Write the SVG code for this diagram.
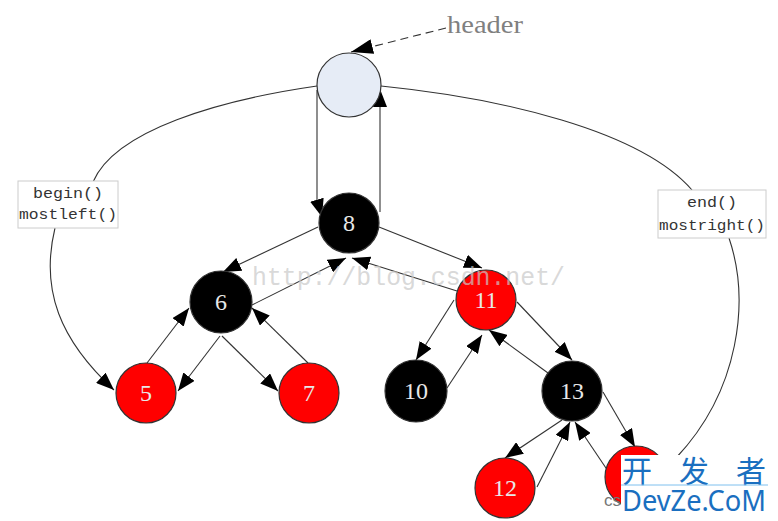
<svg xmlns="http://www.w3.org/2000/svg" width="778" height="521" viewBox="0 0 778 521">
<style>
.edge{fill:none;stroke:#333;stroke-width:1.1}
.node{stroke:#333;stroke-width:1.2}
.red{fill:#ff0000}
.blk{fill:#000}
.lbl{font-family:"Liberation Serif",serif;font-size:24px;fill:#e8e8e8;text-anchor:middle}
.box{fill:#fff;stroke:#ccc;stroke-width:1}
.mono{font-family:"Liberation Mono",monospace;font-size:15px;fill:#333;text-anchor:middle}
</style>
<defs>
<marker id="ah" viewBox="0 0 18 14" refX="18" refY="7" markerWidth="18" markerHeight="14" markerUnits="userSpaceOnUse" orient="auto">
<path d="M0,0 L18,7 L0,14 z" fill="#000"/>
</marker>
<marker id="ahb" viewBox="0 0 22 15" refX="22" refY="7.5" markerWidth="22" markerHeight="15" markerUnits="userSpaceOnUse" orient="auto">
<path d="M0,0 L22,7.5 L0,15 z" fill="#000"/>
</marker>
</defs>
<rect width="778" height="521" fill="#fff"/>
<g id="connectors">
<path class="edge" d="M446,28 L351,52" stroke-dasharray="8,5" marker-end="url(#ahb)"/>
<path class="edge" d="M317,90 L317,200 L322,217" marker-end="url(#ah)"/>
<path class="edge" d="M380,212 L380,89" marker-end="url(#ah)"/>
<path class="edge" d="M318,227 L223,272" marker-end="url(#ah)"/>
<path class="edge" d="M252,305 L346,258" marker-end="url(#ah)"/>
<path class="edge" d="M379,227 L482,268" marker-end="url(#ah)"/>
<path class="edge" d="M457,291 L352,258" marker-end="url(#ah)"/>
<path class="edge" d="M220,336 L178,391" marker-end="url(#ah)"/>
<path class="edge" d="M147,363 L189,308" marker-end="url(#ah)"/>
<path class="edge" d="M222,336 L278,391" marker-end="url(#ah)"/>
<path class="edge" d="M308,363 L252,308" marker-end="url(#ah)"/>
<path class="edge" d="M454,300 L416,360" marker-end="url(#ah)"/>
<path class="edge" d="M447,388 L482,335" marker-end="url(#ah)"/>
<path class="edge" d="M517,302 L572,360" marker-end="url(#ah)"/>
<path class="edge" d="M548,373 L489,330" marker-end="url(#ah)"/>
<path class="edge" d="M562,420 L505,458" marker-end="url(#ah)"/>
<path class="edge" d="M537,487 L570,422" marker-end="url(#ah)"/>
<path class="edge" d="M603,392 L635,447" marker-end="url(#ah)"/>
<path class="edge" d="M612,477 L575,422" marker-end="url(#ah)"/>
<path class="edge" d="M317,86 C220,100 115,130 93,182"/>
<path class="edge" d="M55,228 C40,290 60,340 114,390" marker-end="url(#ah)"/>
<path class="edge" d="M381,86 C500,98 640,130 692,190"/>
<path class="edge" d="M729,238 C750,300 740,390 676,458"/>
</g>
<g id="header">
<circle cx="349" cy="85" r="32" fill="#e6ecf6" class="node"/>
<text x="447" y="33" font-family="Liberation Serif,serif" font-size="26" fill="#808080" textLength="76" lengthAdjust="spacingAndGlyphs">header</text>
</g>
<g id="n8"><circle cx="349" cy="223" r="30" class="node blk"/><text class="lbl" x="349" y="231">8</text></g>
<g id="n6"><circle cx="221" cy="302" r="31" class="node blk"/><text class="lbl" x="221" y="310">6</text></g>
<g id="n5"><circle cx="146" cy="393" r="30" class="node red"/><text class="lbl" x="146" y="401">5</text></g>
<g id="n7"><circle cx="309" cy="393" r="30" class="node red"/><text class="lbl" x="309" y="401">7</text></g>
<g id="n11"><circle cx="486" cy="300" r="30" class="node red"/><text class="lbl" x="486" y="308">11</text></g>
<g id="n10"><circle cx="416" cy="391" r="31" class="node blk"/><text class="lbl" x="416" y="399">10</text></g>
<g id="n13"><circle cx="572" cy="391" r="30" class="node blk"/><text class="lbl" x="572" y="399">13</text></g>
<g id="n12"><circle cx="505" cy="488" r="30" class="node red"/><text class="lbl" x="505" y="496">12</text></g>
<g id="n14"><circle cx="636" cy="477" r="31" class="node red"/></g>
<text x="252" y="285" font-family="Liberation Mono,monospace" font-size="25" fill="#c8c8c8" fill-opacity="0.7" textLength="313" lengthAdjust="spacingAndGlyphs">http://blog.csdn.net/</text>
<g id="begin">
<rect class="box" x="18" y="181" width="100" height="47"/>
<text class="mono" x="68" y="198" textLength="70" lengthAdjust="spacingAndGlyphs">begin()</text>
<text class="mono" x="68" y="219" textLength="98" lengthAdjust="spacingAndGlyphs">mostleft()</text>
</g>
<g id="end">
<rect class="box" x="658" y="190" width="108" height="48"/>
<text class="mono" x="712" y="207" textLength="50" lengthAdjust="spacingAndGlyphs">end()</text>
<text class="mono" x="712" y="230" textLength="106" lengthAdjust="spacingAndGlyphs">mostright()</text>
</g>
<g id="logo">
<text x="604" y="506" font-family="Liberation Sans,sans-serif" font-size="17" fill="#777">cs</text>
<rect x="621" y="455" width="147" height="66" fill="#fff"/>
<text x="622" y="482" font-family="Noto Sans CJK SC,sans-serif" font-size="30" fill="#1a6fc0" textLength="144" lengthAdjust="spacing">开发者</text>
<line x1="621" y1="485" x2="768" y2="485" stroke="#7fc0ee" stroke-width="1"/>
<text x="622" y="511" font-family="Noto Sans,sans-serif" font-size="29" fill="#1a6fc0" textLength="144" lengthAdjust="spacingAndGlyphs">DevZe.CoM</text>
</g>
</svg>
